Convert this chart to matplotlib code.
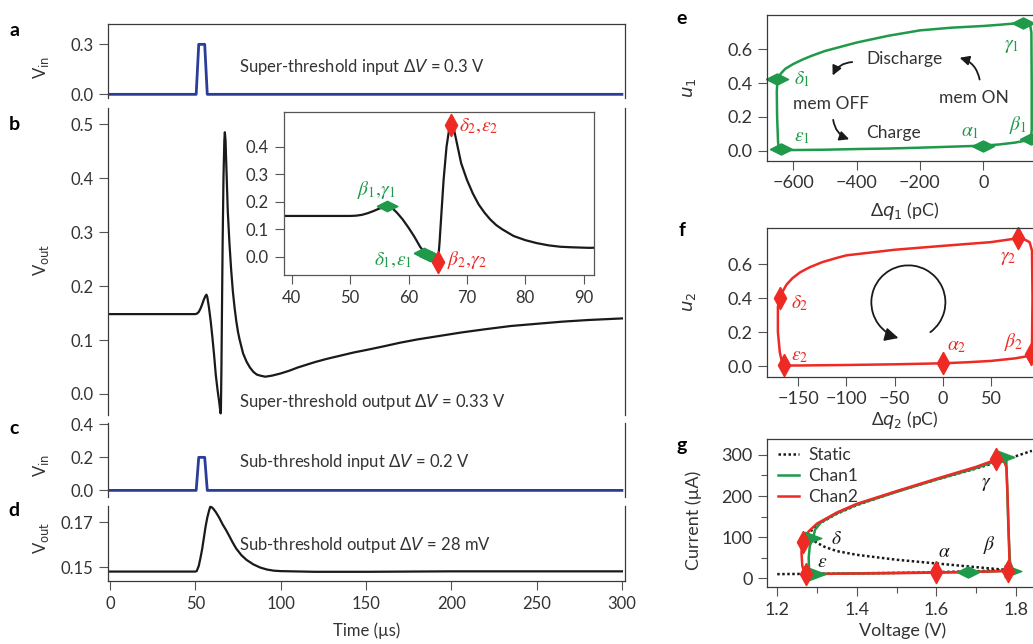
import numpy as np
import matplotlib
matplotlib.use("Agg")
import matplotlib.pyplot as plt
from matplotlib.patches import FancyArrowPatch
from matplotlib.path import Path
from matplotlib.transforms import Affine2D
from matplotlib.ticker import FormatStrFormatter, MultipleLocator

plt.rcParams['font.family'] = ['Lato', 'DejaVu Sans']
plt.rcParams['axes.unicode_minus'] = True

# ---- data: input pulses (a, c) ----
t_pulse = [0, 50.5, 52, 55.5, 57, 300]
vin_super = [0, 0, 0.3, 0.3, 0, 0]
vin_sub = [0, 0, 0.2, 0.2, 0, 0]

# ---- data: super-threshold output (b and inset) ----
t_super = [0, 50, 51, 52, 53, 54, 55, 56, 56.5, 57, 58, 59, 60, 61, 62, 63, 64, 64.8, 65.0,
           65.3, 65.6, 66.0, 66.5, 67.0, 67.3, 67.7, 68.3, 69, 70, 71, 72, 73, 74, 75, 76,
           78, 80, 82, 84, 86, 88, 91, 95, 100, 105, 110, 115, 120, 127, 135, 143, 151,
           160, 170, 180, 190, 206, 220, 235, 250, 265, 280, 300]
v_super = [0.148, 0.148, 0.149, 0.152, 0.158, 0.166, 0.175, 0.182, 0.184, 0.180, 0.160,
           0.135, 0.105, 0.072, 0.035, 0.008, -0.015, -0.036, -0.030, 0.05, 0.15, 0.28,
           0.40, 0.47, 0.485, 0.47, 0.41, 0.34, 0.279, 0.23, 0.19, 0.16, 0.135, 0.115,
           0.10, 0.075, 0.06, 0.049, 0.041, 0.036, 0.034, 0.032, 0.034, 0.038, 0.043,
           0.049, 0.054, 0.059, 0.065, 0.071, 0.077, 0.082, 0.088, 0.095, 0.101, 0.106,
           0.114, 0.120, 0.126, 0.130, 0.134, 0.137, 0.140]
inset_green_t = [56.3, 62.7, 63.6]
inset_green_v = [0.183, 0.015, 0.003]
inset_red_t = [65.0, 67.3]
inset_red_v = [-0.02, 0.48]

# ---- data: sub-threshold output (d) ----
t_sub = [0, 50, 50.8, 52, 53, 54, 55, 56, 57, 58, 58.7, 59.5, 60.5, 62, 64, 66, 68, 70, 72,
         74, 77, 80, 84, 88, 92, 96, 100, 120, 150, 200, 250, 300]
v_sub = [0.148, 0.148, 0.1482, 0.1505, 0.154, 0.158, 0.163, 0.168, 0.172, 0.175, 0.1768,
         0.1767, 0.176, 0.1745, 0.172, 0.169, 0.1665, 0.1637, 0.1608, 0.1582, 0.1553,
         0.1532, 0.1512, 0.1498, 0.1489, 0.1484, 0.1482, 0.1479, 0.1479, 0.1481, 0.1481,
         0.1481]

# ---- data: channel 1 loop (e) ----
q1 = [-645, -600, -500, -400, -300, -200, -100, 0, 50, 100, 140, 150, 153, 153, 152, 148,
      125, 50, 0, -100, -200, -300, -400, -450, -500, -540, -570, -600, -625, -640, -650,
      -652, -651, -648, -645]
u1 = [0.005, 0.004, 0.006, 0.010, 0.013, 0.018, 0.024, 0.030, 0.037, 0.048, 0.062, 0.070,
      0.12, 0.40, 0.70, 0.745, 0.757, 0.745, 0.738, 0.728, 0.712, 0.68, 0.64, 0.615, 0.59,
      0.563, 0.54, 0.513, 0.485, 0.455, 0.42, 0.35, 0.20, 0.05, 0.005]
q1_marks = [-650, -640, 0, 150, 127]
u1_marks = [0.425, 0.008, 0.030, 0.072, 0.757]

# ---- data: channel 2 loop (f) ----
q2 = [-166, -150, -100, -50, 0, 25, 50, 75, 88, 91, 92.5, 93, 92.5, 90, 85, 78, 50, 0, -50,
      -100, -110, -125, -138, -148, -156, -162, -166, -169, -171, -171, -169, -166]
u2 = [0.003, 0.003, 0.006, 0.010, 0.016, 0.022, 0.030, 0.045, 0.058, 0.070, 0.12, 0.40,
      0.68, 0.73, 0.745, 0.753, 0.73, 0.708, 0.685, 0.652, 0.637, 0.612, 0.582, 0.552,
      0.517, 0.48, 0.44, 0.40, 0.35, 0.20, 0.08, 0.003]
q2_marks = [-169, -165, 0, 91, 78]
u2_marks = [0.40, 0.005, 0.016, 0.07, 0.753]

# ---- data: I-V curves (g) ----
static_v = [1.2, 1.3, 1.4, 1.5, 1.6, 1.7, 1.78, 1.7, 1.6, 1.5, 1.4, 1.35, 1.32, 1.30, 1.29,
            1.28, 1.285, 1.3, 1.35, 1.4, 1.5, 1.6, 1.7, 1.76, 1.8, 1.84]
static_i = [10, 11, 12, 13, 15, 17, 20, 27, 36, 45, 57, 66, 76, 86, 93, 102, 115, 130, 157,
            178, 211, 240, 267, 285, 297, 310]
chan1_v = [1.299, 1.4, 1.5, 1.6, 1.68, 1.75, 1.793, 1.785, 1.781, 1.778, 1.776, 1.776, 1.70,
           1.6, 1.5, 1.4, 1.35, 1.31, 1.295, 1.29, 1.282, 1.279, 1.28, 1.285, 1.299]
chan1_i = [10.5, 12, 13, 14, 15, 17, 19, 40, 120, 220, 280, 294, 268, 240, 210, 179, 158,
           136, 118, 97, 80, 50, 20, 12, 10.5]
chan2_v = [1.272, 1.35, 1.45, 1.55, 1.6, 1.65, 1.72, 1.78, 1.784, 1.782, 1.779, 1.776, 1.770,
           1.751, 1.70, 1.6, 1.5, 1.4, 1.35, 1.3, 1.28, 1.268, 1.262, 1.261, 1.263, 1.268,
           1.272]
chan2_i = [10, 11, 12, 13, 14, 15, 16, 18, 30, 100, 200, 270, 284, 289, 271, 242, 212, 181,
           160, 133, 115, 100, 87, 60, 30, 14, 10]
chan1_marks_v = [1.29, 1.299, 1.68, 1.793, 1.776]
chan1_marks_i = [97, 10.5, 15, 18, 294]
chan2_marks_v = [1.264, 1.272, 1.598, 1.780, 1.751]
chan2_marks_i = [87, 10.5, 16, 18, 290]

BLUE = '#2a3d97'
BLACK = '#1a1a1a'
GREEN = '#1e9a4a'
RED = '#ee2a24'
TEXT = '#333333'
SPINE = '#3a3a3a'

H_DIAMOND = [(-1, 0), (0, 0.5), (1, 0), (0, -0.5), (-1, 0)]
V_DIAMOND = [(0, 1), (0.55, 0), (0, -1), (-0.55, 0), (0, 1)]
TRIANGLE = [(-1, 0.75), (1, 0), (-1, -0.75), (-1, 0.75)]

W, H = 1033, 644
fig = plt.figure(figsize=(W / 100, H / 100), dpi=100)


def axes_px(left, top, right, bottom):
    return fig.add_axes([left / W, 1 - bottom / H, (right - left) / W, (bottom - top) / H])


def fig_text(x, y, s, **kw):
    kw.setdefault('color', TEXT)
    fig.text(x / W, 1 - y / H, s, **kw)


def style(ax, spines, size=12):
    for side in ['left', 'right', 'top', 'bottom']:
        ax.spines[side].set_visible(side in spines)
        ax.spines[side].set_color(SPINE)
        ax.spines[side].set_linewidth(0.9)
    ax.tick_params(direction='out', length=6.5, width=0.8, color='#555555',
                   labelsize=size, labelcolor=TEXT, pad=4)
    ax.tick_params(which='minor', direction='out', length=4, width=0.8, color='#555555')
    ax.patch.set_alpha(0)


greek = dict(math_fontfamily='stix', fontsize=14)

# ---------------- left column ----------------
XL = (-1, 301.8)
ax_a = axes_px(108.3, 24, 625, 98)
ax_a.plot(t_pulse, vin_super, color=BLUE, lw=2)
ax_a.set_xlim(*XL)
ax_a.set_ylim(-0.022, 0.422)
ax_a.set_yticks([0, 0.3])
ax_a.yaxis.set_major_formatter(FormatStrFormatter('%.1f'))
ax_a.set_xticks([])
style(ax_a, ['left', 'right', 'top'])

ax_b = axes_px(108.3, 108, 625, 415)
ax_b.plot(t_super, v_super, color=BLACK, lw=1.6)
ax_b.set_xlim(*XL)
ax_b.set_ylim(-0.039, 0.53)
ax_b.set_yticks([0, 0.1, 0.2, 0.3, 0.4, 0.5])
ax_b.yaxis.set_major_formatter(FormatStrFormatter('%.1f'))
ax_b.set_xticks([])
style(ax_b, ['left', 'right'])

ax_c = axes_px(108.3, 423, 625, 497)
ax_c.plot(t_pulse, vin_sub, color=BLUE, lw=2)
ax_c.set_xlim(*XL)
ax_c.set_ylim(-0.04, 0.408)
ax_c.set_yticks([0, 0.2, 0.4])
ax_c.yaxis.set_major_formatter(FormatStrFormatter('%.1f'))
ax_c.set_xticks([])
style(ax_c, ['left', 'right'])

ax_d = axes_px(108.3, 506, 625, 581)
ax_d.plot(t_sub, v_sub, color=BLACK, lw=1.6, clip_on=False)
ax_d.set_xlim(*XL)
ax_d.set_ylim(0.1438, 0.1772)
ax_d.set_yticks([0.15, 0.17])
ax_d.yaxis.set_major_formatter(FormatStrFormatter('%.2f'))
ax_d.set_xticks([0, 50, 100, 150, 200, 250, 300])
style(ax_d, ['left', 'right', 'bottom'])

# inset of b
ax_in = axes_px(283.7, 111.7, 593.9, 275)
ax_in.plot(t_super, v_super, color=BLACK, lw=1.6)
ax_in.plot(inset_green_t, inset_green_v, ls='none', marker=H_DIAMOND, ms=15, color=GREEN)
ax_in.plot(inset_red_t, inset_red_v, ls='none', marker=V_DIAMOND, ms=16, color=RED,
           clip_on=False)
ax_in.set_xlim(38.6, 91.75)
ax_in.set_ylim(-0.0667, 0.527)
ax_in.set_xticks([40, 50, 60, 70, 80, 90])
ax_in.set_yticks([0, 0.1, 0.2, 0.3, 0.4])
ax_in.yaxis.set_major_formatter(FormatStrFormatter('%.1f'))
style(ax_in, ['left', 'right', 'top', 'bottom'])
for s in ax_in.spines.values():
    s.set_color('#555555')
ax_in.patch.set_alpha(1)
ax_in.patch.set_facecolor('white')
ax_in.text(54.5, 0.243, r'$\beta_1,\!\gamma_1$', color=GREEN, ha='center', va='center', **greek)
ax_in.text(57.4, -0.012, r'$\delta_1,\!\varepsilon_1$', color=GREEN, ha='center', va='center', **greek)
ax_in.text(66.6, -0.012, r'$\beta_2,\!\gamma_2$', color=RED, ha='left', va='center', **greek)
ax_in.text(68.6, 0.473, r'$\delta_2,\!\varepsilon_2$', color=RED, ha='left', va='center', **greek)

# annotations and labels of the left column
fig_text(238.8, 67, r'Super-threshold input Δ$V$ = 0.3 V', fontsize=12, va='center',
         math_fontfamily='dejavusans')
fig_text(238.8, 401.7, r'Super-threshold output Δ$V$ = 0.33 V', fontsize=12, va='center',
         math_fontfamily='dejavusans')
fig_text(238.8, 461.7, r'Sub-threshold input Δ$V$ = 0.2 V', fontsize=12, va='center',
         math_fontfamily='dejavusans')
fig_text(238.8, 545, r'Sub-threshold output Δ$V$ = 28 mV', fontsize=12, va='center',
         math_fontfamily='dejavusans')
for y, s in [(67, r'V$_{\mathrm{in}}$'), (260, r'V$_{\mathrm{out}}$'),
             (465, r'V$_{\mathrm{in}}$'), (538, r'V$_{\mathrm{out}}$')]:
    fig_text(41, y, s, fontsize=12, rotation=90, ha='center', va='center',
             math_fontfamily='dejavusans')
fig_text(367, 631, 'Time (µs)', fontsize=12, ha='center', va='center')
for x, y, s in [(14, 30, 'a'), (14, 125, 'b'), (14, 428, 'c'), (14, 510, 'd'),
                (682, 18, 'e'), (682, 230, 'f'), (682, 445, 'g')]:
    fig_text(x, y, s, fontsize=14, fontweight='bold', ha='center', va='center', color='black')

# ---------------- right column ----------------
ax_e = axes_px(767.3, 15, 1045, 160.7)
ax_e.plot(q1, u1, color=GREEN, lw=1.8)
ax_e.plot(q1_marks, u1_marks, ls='none', marker=H_DIAMOND, ms=16, color=GREEN, clip_on=False)
ax_e.set_xlim(-682, 195)
ax_e.set_ylim(-0.059, 0.803)
ax_e.set_xticks([-600, -400, -200, 0])
ax_e.set_yticks([0, 0.2, 0.4, 0.6])
ax_e.yaxis.set_major_formatter(FormatStrFormatter('%.1f'))
style(ax_e, ['left', 'right', 'top', 'bottom'], size=13)
for x, y, s in [(-572, 0.424, r'$\delta_1$'), (-572, 0.081, r'$\varepsilon_1$'),
                (-42, 0.105, r'$\alpha_1$'), (110, 0.152, r'$\beta_1$'),
                (91, 0.614, r'$\gamma_1$')]:
    ax_e.text(x, y, s, color=GREEN, ha='center', va='center', **greek)
ax_e.text(-250, 0.541, 'Discharge', fontsize=12.5, color=TEXT, ha='center', va='center')
ax_e.text(-480, 0.276, 'mem OFF', fontsize=12.5, color=TEXT, ha='center', va='center')
ax_e.text(-30, 0.31, 'mem ON', fontsize=12.5, color=TEXT, ha='center', va='center')
ax_e.text(-284, 0.107, 'Charge', fontsize=12.5, color=TEXT, ha='center', va='center')
for a, b in [((-405, 0.525), (-479, 0.43)), ((-10, 0.405), (-83, 0.554)),
             ((-475, 0.199), (-415, 0.063))]:
    ax_e.add_patch(FancyArrowPatch(a, b, connectionstyle='arc3,rad=0.35', arrowstyle='-|>',
                                   mutation_scale=14, color=BLACK, lw=1.3))
ax_e.set_ylabel(r'$u_1$', fontsize=13, color=TEXT, math_fontfamily='dejavusans')
ax_e.yaxis.set_label_coords((698 - 767.3) / (1045 - 767.3), 0.5)
ax_e.set_xlabel(r'Δ$q_1$ (pC)', fontsize=13, color=TEXT, math_fontfamily='dejavusans')
ax_e.xaxis.set_label_coords((905 - 767.3) / (1045 - 767.3), -(200 - 160.7) / 145.7)

ax_f = axes_px(767.3, 227.7, 1045, 376.7)
ax_f.plot(q2, u2, color=RED, lw=1.8)
ax_f.plot(q2_marks, u2_marks, ls='none', marker=V_DIAMOND, ms=16, color=RED, clip_on=False)
ax_f.set_xlim(-182, 106)
ax_f.set_ylim(-0.063, 0.815)
ax_f.set_xticks([-150, -100, -50, 0, 50])
ax_f.set_yticks([0, 0.2, 0.4, 0.6])
ax_f.yaxis.set_major_formatter(FormatStrFormatter('%.1f'))
style(ax_f, ['left', 'right', 'top', 'bottom'], size=13)
for x, y, s in [(-148, 0.371, r'$\delta_2$'), (-148, 0.055, r'$\varepsilon_2$'),
                (14.5, 0.114, r'$\alpha_2$'), (73, 0.143, r'$\beta_2$'),
                (68, 0.634, r'$\gamma_2$')]:
    ax_f.text(x, y, s, color=RED, ha='center', va='center', **greek)
arc = Path.arc(-53.6, 254.5)
arc = Affine2D().scale(38.4, 0.218).translate(-35.7, 0.375).transform_path(arc)
ax_f.add_patch(FancyArrowPatch(path=arc, arrowstyle='-|>', mutation_scale=20, color=BLACK,
                               lw=1.3, transform=ax_f.transData))
ax_f.set_ylabel(r'$u_2$', fontsize=13, color=TEXT, math_fontfamily='dejavusans')
ax_f.yaxis.set_label_coords((698 - 767.3) / (1045 - 767.3), 0.5)
ax_f.set_xlabel(r'Δ$q_2$ (pC)', fontsize=12.5, color=TEXT, math_fontfamily='dejavusans')
ax_f.xaxis.set_label_coords((905 - 767.3) / (1045 - 767.3), -(409 - 376.7) / 149)

ax_g = axes_px(767.3, 439.3, 1045, 587.3)
ax_g.plot(static_v, static_i, color=BLACK, lw=1.8, ls=(0, (1, 1)), label='Static')
ax_g.plot(chan1_v, chan1_i, color=GREEN, lw=1.8, label='Chan1')
ax_g.plot(chan2_v, chan2_i, color=RED, lw=1.8, label='Chan2')
for k, (v, i) in enumerate(zip(chan1_marks_v, chan1_marks_i)):
    ax_g.plot(v, i, ls='none', marker=H_DIAMOND if k == 2 else TRIANGLE,
              ms=16 if k == 2 else 12, color=GREEN, clip_on=False)
ax_g.plot(chan2_marks_v, chan2_marks_i, ls='none', marker=V_DIAMOND, ms=16, color=RED,
          clip_on=False)
ax_g.set_xlim(1.175, 1.873)
ax_g.set_ylim(-22, 338)
ax_g.set_xticks([1.2, 1.4, 1.6, 1.8])
ax_g.xaxis.set_major_formatter(FormatStrFormatter('%.1f'))
ax_g.xaxis.set_minor_locator(MultipleLocator(0.1))
ax_g.set_yticks([0, 100, 200, 300])
ax_g.yaxis.set_minor_locator(MultipleLocator(50))
style(ax_g, ['left', 'right', 'top', 'bottom'], size=13)
for x, y, s in [(1.726, 227, r'$\gamma$'), (1.349, 97, r'$\delta$'), (1.734, 81, r'$\beta$'),
                (1.621, 65, r'$\alpha$'), (1.314, 40, r'$\varepsilon$')]:
    ax_g.text(x, y, s, color=BLACK, ha='center', va='center', **greek)
ax_g.legend(loc='upper left', bbox_to_anchor=(0.0, 1.02), frameon=False, fontsize=12.5,
            handlelength=1.25, handletextpad=0.5, labelspacing=0.3, borderaxespad=0.2,
            labelcolor=TEXT)
ax_g.set_ylabel('Current (µA)', fontsize=13, color=TEXT)
ax_g.yaxis.set_label_coords((701.7 - 767.3) / (1045 - 767.3), 0.45)
ax_g.set_xlabel('Voltage (V)', fontsize=13, color=TEXT)
ax_g.xaxis.set_label_coords((903 - 767.3) / (1045 - 767.3), -(622 - 587.3) / 148)

fig.savefig('out.png', dpi=100)
